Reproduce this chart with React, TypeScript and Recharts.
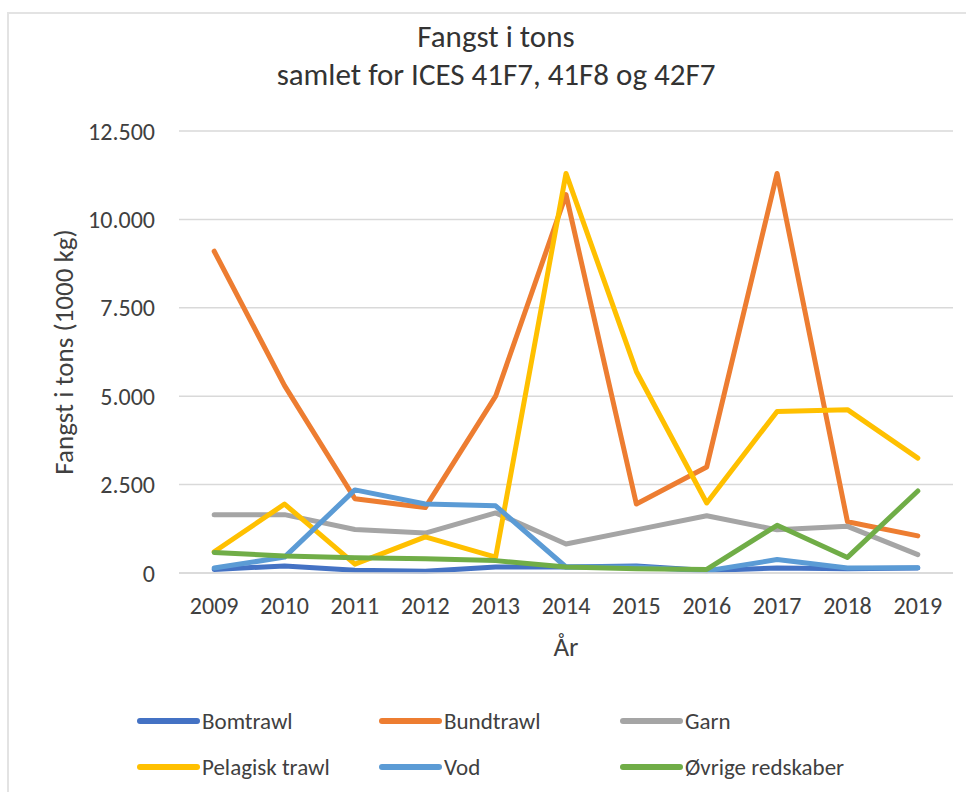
import { LineChart, Line, XAxis, YAxis, CartesianGrid } from 'recharts';

const years = ['2009', '2010', '2011', '2012', '2013', '2014', '2015', '2016', '2017', '2018', '2019'];

const bomtrawl = [100, 200, 80, 50, 170, 170, 200, 70, 140, 120, 140];
const bundtrawl = [9100, 5300, 2100, 1850, 5000, 10700, 1950, 3000, 11300, 1450, 1050];
const garn = [1650, 1650, 1230, 1130, 1700, 820, 1220, 1620, 1220, 1320, 520];
const pelagiskTrawl = [600, 1950, 250, 1020, 450, 11300, 5700, 1980, 4570, 4620, 3250];
const vod = [140, 450, 2350, 1950, 1900, 170, 170, 60, 380, 140, 150];
const ovrige = [580, 480, 430, 400, 350, 170, 120, 100, 1350, 440, 2320];

const yTicks = [0, 2500, 5000, 7500, 10000, 12500];

const series = [
  { key: 'bomtrawl', name: 'Bomtrawl', color: '#4472C4', values: bomtrawl },
  { key: 'bundtrawl', name: 'Bundtrawl', color: '#ED7D31', values: bundtrawl },
  { key: 'garn', name: 'Garn', color: '#A5A5A5', values: garn },
  { key: 'pelagisk', name: 'Pelagisk trawl', color: '#FFC000', values: pelagiskTrawl },
  { key: 'vod', name: 'Vod', color: '#5B9BD5', values: vod },
  { key: 'ovrige', name: 'Øvrige redskaber', color: '#70AD47', values: ovrige },
];

const data = years.map((year, i) => {
  const row: Record<string, string | number> = { year };
  series.forEach((s) => {
    row[s.key] = s.values[i];
  });
  return row;
});

const FONT = 'Carlito, Lato, sans-serif';
const TEXT = '#404040';

// danish thousands separator
const fmt = (v: number) => String(v).replace(/\B(?=(\d{3})+(?!\d))/g, '.');

const legendCols = [140, 382, 623];
const legendRows = [721, 767];

export default function App() {
  return (
    <div style={{ position: 'absolute', left: 0, top: 0, width: 966, height: 792, overflow: 'hidden', background: '#fff' }}>
      <div
        style={{
          position: 'absolute',
          left: 7,
          top: 12,
          width: 980,
          height: 820,
          border: '2px solid #e3e3e3',
          boxSizing: 'border-box',
        }}
      />
      <LineChart
        width={966}
        height={792}
        data={data}
        margin={{ top: 131, right: 13, bottom: 179, left: 0 }}
        style={{ position: 'absolute', left: 0, top: 0, fontFamily: FONT }}
      >
        <CartesianGrid vertical={false} stroke="#d9d9d9" strokeWidth={1.5} />
        <XAxis
          dataKey="year"
          scale="band"
          height={40}
          tickLine={false}
          tickSize={0}
          tickMargin={24}
          axisLine={{ stroke: '#d9d9d9', strokeWidth: 1.5 }}
          tick={{ fontSize: 24, fill: TEXT, fontFamily: FONT }}
          label={{ value: 'År', position: 'bottom', offset: 24, fontSize: 27, fill: TEXT, fontFamily: FONT }}
        />
        <YAxis
          width={179}
          domain={[0, 12500]}
          ticks={yTicks}
          tickFormatter={fmt}
          axisLine={false}
          tickLine={false}
          tickSize={0}
          tickMargin={24}
          tick={{ fontSize: 24, fill: TEXT, fontFamily: FONT }}
          label={{
            value: 'Fangst i tons (1000 kg)',
            angle: -90,
            position: 'insideLeft',
            offset: 63,
            fontSize: 27,
            fill: TEXT,
            fontFamily: FONT,
            style: { textAnchor: 'middle' },
          }}
        />
        {series.map((s) => (
          <Line
            key={s.key}
            dataKey={s.key}
            name={s.name}
            stroke={s.color}
            strokeWidth={5}
            strokeLinejoin="round"
            strokeLinecap="round"
            dot={false}
            activeDot={false}
            isAnimationActive={false}
          />
        ))}
      </LineChart>
      <svg width={966} height={792} style={{ position: 'absolute', left: 0, top: 0, pointerEvents: 'none' }}>
        <text x={496} y={47} textAnchor="middle" fontFamily={FONT} fontSize={31} fill="#333">
          Fangst i tons
        </text>
        <text x={496} y={85} textAnchor="middle" fontFamily={FONT} fontSize={31} fill="#333">
          samlet for ICES 41F7, 41F8 og 42F7
        </text>
        {series.map((s, i) => {
          const x = legendCols[i % 3];
          const y = legendRows[Math.floor(i / 3)];
          return (
            <g key={s.key}>
              <line x1={x} y1={y} x2={x + 57} y2={y} stroke={s.color} strokeWidth={6} strokeLinecap="round" />
              <text x={x + 62} y={y} dy="0.35em" fontFamily={FONT} fontSize={23} fill={TEXT}>
                {s.name}
              </text>
            </g>
          );
        })}
      </svg>
    </div>
  );
}
